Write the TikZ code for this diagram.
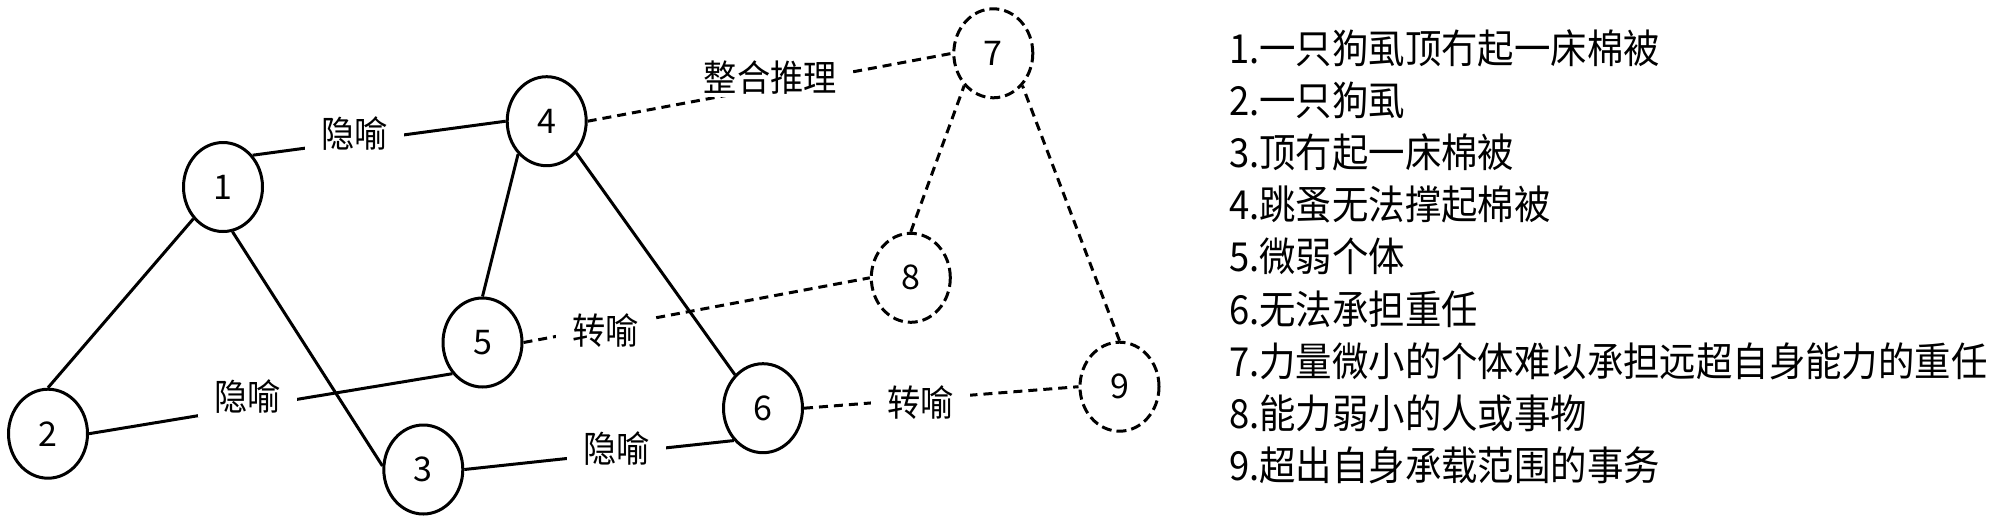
\documentclass[tikz,border=0pt]{standalone}
\usepackage{fontspec}
\setmainfont{Noto Sans CJK SC}
\newfontfamily\narrowcjk[FakeStretch=0.91]{Noto Sans CJK SC}
\usetikzlibrary{shapes.geometric}
\begin{document}
\begin{tikzpicture}[x=1pt,y=-1pt,
  concept/.style={ellipse,draw,line width=3pt,minimum width=79pt,minimum height=89pt,inner sep=0pt,font=\fontsize{34}{40}\selectfont},
  inferred/.style={concept,dash pattern=on 10pt off 5pt},
  link/.style={line width=3pt},
  dlink/.style={line width=3pt,dash pattern=on 9pt off 6pt},
  lbl/.style={fill=white,inner xsep=16pt,inner ysep=3pt,font=\narrowcjk\fontsize{36.5}{42}\selectfont},
  item/.style={anchor=base west,inner sep=0pt,font=\narrowcjk\fontsize{40}{48}\selectfont}]
\useasboundingbox (0,0) rectangle (2000,523);

% concept nodes
\node[concept] (n1) at (223,187) {1};
\node[concept] (n2) at (48,433.7) {2};
\node[concept] (n3) at (423.3,469.5) {3};
\node[concept] (n4) at (546.7,121.2) {4};
\node[concept] (n5) at (482.5,342.5) {5};
\node[concept] (n6) at (763,408.2) {6};
\node[inferred] (n7) at (993.3,53.3) {7};
\node[inferred] (n8) at (910.8,277.8) {8};
\node[inferred] (n9) at (1119.5,386.7) {9};

% solid connectors
\draw[link] (n1.47) -- (n4.west);
\draw[link] (n1.227) -- (n2.north);
\draw[link] (n1.282) -- (n3.175);
\draw[link] (n2.east) -- (n5.226);
\draw[link] (n3.east) -- (n6.228);
\draw[link] (n4.229) -- (n5.north);
\draw[link] (n4.313) -- (n6.130);

% dashed connectors
\draw[dlink] (n4.east) -- (n7.west);
\draw[dlink] (n5.east) -- (n8.west);
\draw[dlink] (n6.east) -- (n9.west);
\draw[dlink] (n8.north) -- (n7.228);
\draw[dlink] (n9.north) -- (n7.312);

% connector labels
\node[lbl] (l14) at (354.5,134) {隐喻};
\node[lbl] (l25) at (247.5,397) {隐喻};
\node[lbl] (l36) at (616.7,449) {隐喻};
\node[lbl] (l47) at (770.3,77.5) {整合推理};
\node[lbl] (l58) at (605.5,331) {转喻};
\node[lbl] (l69) at (920.5,402.5) {转喻};

% legend
\node[item] (t1) at (1229,63.5) {1.一只狗虱顶冇起一床棉被};
\node[item] (t2) at (1229,115.6) {2.一只狗虱};
\node[item] (t3) at (1229,167.7) {3.顶冇起一床棉被};
\node[item] (t4) at (1229,219.8) {4.跳蚤无法撑起棉被};
\node[item] (t5) at (1229,271.9) {5.微弱个体};
\node[item] (t6) at (1229,324.0) {6.无法承担重任};
\node[item] (t7) at (1229,376.1) {7.力量微小的个体难以承担远超自身能力的重任};
\node[item] (t8) at (1229,428.2) {8.能力弱小的人或事物};
\node[item] (t9) at (1229,480.3) {9.超出自身承载范围的事务};
\end{tikzpicture}
\end{document}
